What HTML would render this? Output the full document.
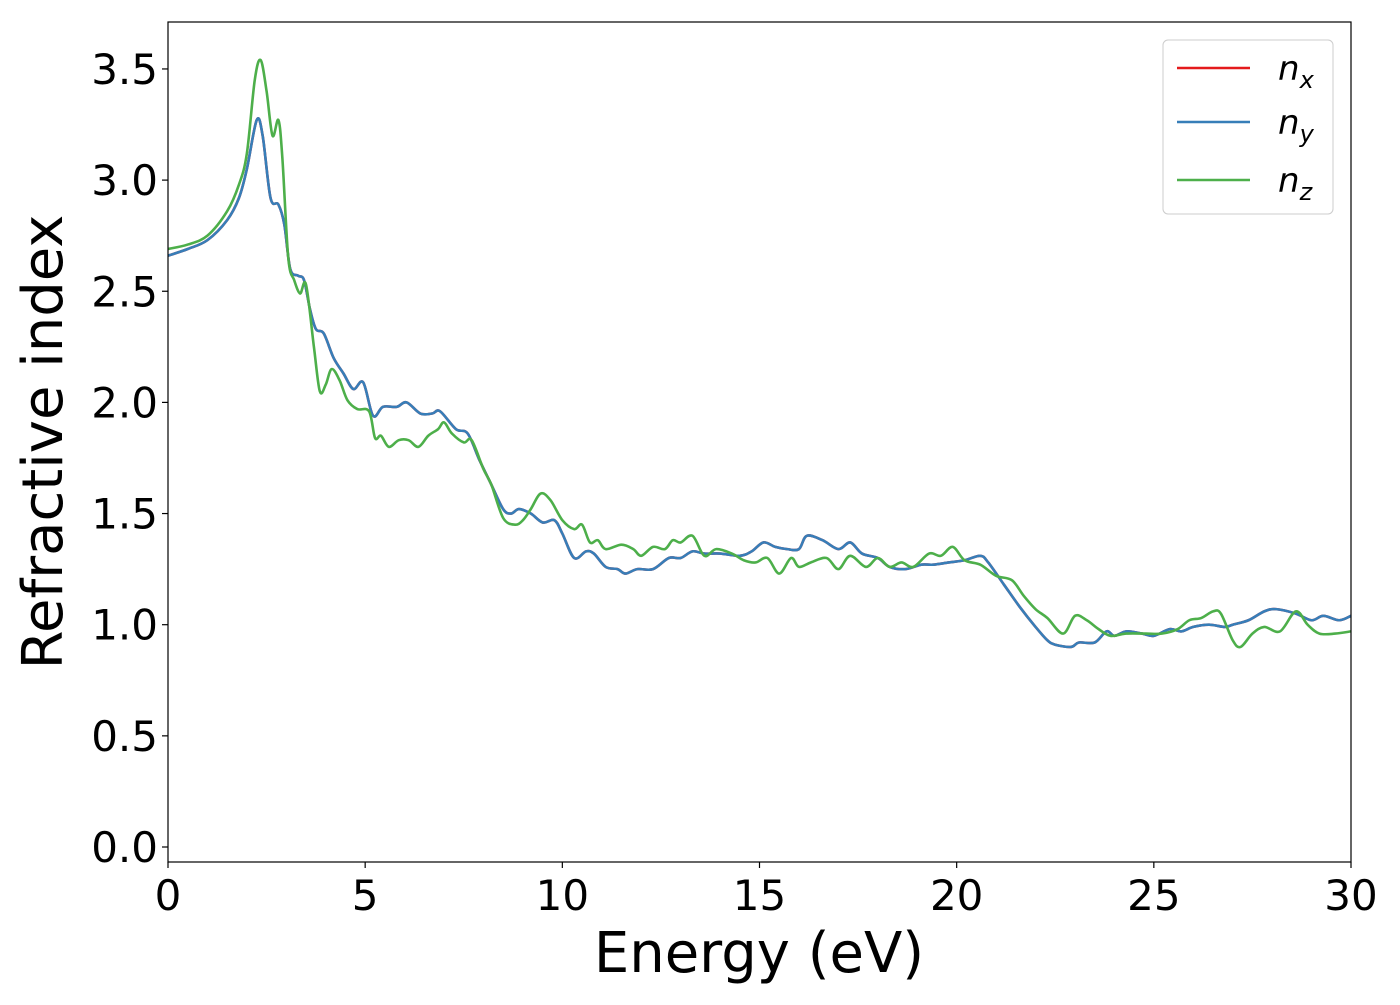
<!DOCTYPE html>
<html><head><meta charset="utf-8"><style>
body{margin:0;background:#fff;}
svg text{font-family:"DejaVu Sans","Liberation Sans",sans-serif;}
</style></head><body>
<svg width="1400" height="1000" viewBox="0 0 1400 1000" xmlns="http://www.w3.org/2000/svg">
<rect width="1400" height="1000" fill="#fff"/>
<g id="plot"></g>
<g id="axes"></g>
</svg>
<script>
const xTicks=[0,5,10,15,20,25,30];
const yTicks=[0.0,0.5,1.0,1.5,2.0,2.5,3.0,3.5];
const energyXY=[0,0.5,1,1.5,1.8,2.0,2.25,2.4,2.6,2.8,2.95,3.1,3.3,3.45,3.6,3.75,3.95,4.2,4.45,4.7,4.95,5.2,5.45,5.8,6.05,6.4,6.7,6.9,7.3,7.6,7.9,8.2,8.5,8.7,8.9,9.2,9.5,9.8,10.0,10.3,10.6,10.8,11.1,11.4,11.6,11.9,12.3,12.7,13.0,13.3,13.6,14.0,14.5,14.8,15.1,15.4,15.7,16.0,16.2,16.6,17.0,17.3,17.6,18.0,18.3,18.7,19.1,19.4,19.8,20.2,20.6,20.8,21.2,21.6,22.0,22.3,22.5,22.9,23.1,23.5,23.8,24.0,24.3,24.7,25.0,25.4,25.7,26.0,26.4,26.8,27.0,27.4,27.8,28.1,28.6,29.0,29.3,29.7,30];
const nx=[2.66,2.69,2.73,2.82,2.92,3.05,3.27,3.2,2.92,2.89,2.8,2.6,2.57,2.55,2.42,2.33,2.31,2.2,2.13,2.06,2.09,1.94,1.98,1.98,2.0,1.95,1.95,1.96,1.88,1.86,1.74,1.63,1.52,1.50,1.52,1.50,1.46,1.47,1.41,1.30,1.33,1.32,1.26,1.25,1.23,1.25,1.25,1.30,1.30,1.33,1.32,1.32,1.31,1.33,1.37,1.35,1.34,1.34,1.40,1.38,1.34,1.37,1.32,1.30,1.26,1.25,1.27,1.27,1.28,1.29,1.31,1.28,1.18,1.08,0.99,0.93,0.91,0.90,0.92,0.92,0.97,0.95,0.97,0.96,0.95,0.98,0.97,0.99,1.00,0.99,1.00,1.02,1.06,1.07,1.05,1.02,1.04,1.02,1.04];
const ny=nx.slice();
const energyZ=[0,0.5,1.0,1.5,1.8,2.0,2.2,2.35,2.5,2.65,2.8,2.9,3.05,3.2,3.35,3.5,3.7,3.85,4.0,4.15,4.35,4.55,4.8,5.1,5.25,5.4,5.6,5.85,6.1,6.35,6.6,6.85,7.0,7.2,7.5,7.7,8.0,8.2,8.5,8.8,9.0,9.2,9.45,9.7,10.0,10.3,10.5,10.7,10.9,11.1,11.5,11.8,12.0,12.3,12.6,12.8,13.0,13.3,13.6,13.9,14.3,14.6,14.9,15.2,15.5,15.8,16.0,16.3,16.7,17.0,17.3,17.7,18.0,18.3,18.6,18.9,19.3,19.6,19.9,20.2,20.6,21.0,21.4,21.7,22.0,22.3,22.7,23.0,23.3,23.6,23.9,24.3,24.8,25.2,25.6,25.9,26.2,26.5,26.7,27.0,27.2,27.5,27.8,28.2,28.6,28.9,29.2,29.6,30];
const nz=[2.69,2.71,2.75,2.86,2.98,3.12,3.45,3.54,3.40,3.20,3.27,3.10,2.65,2.55,2.49,2.53,2.25,2.05,2.08,2.15,2.10,2.01,1.97,1.96,1.84,1.85,1.80,1.83,1.83,1.80,1.85,1.88,1.91,1.86,1.82,1.83,1.70,1.63,1.48,1.45,1.47,1.52,1.59,1.56,1.47,1.43,1.45,1.37,1.38,1.34,1.36,1.34,1.31,1.35,1.34,1.38,1.37,1.40,1.31,1.34,1.32,1.29,1.28,1.30,1.23,1.30,1.26,1.28,1.30,1.25,1.31,1.26,1.30,1.26,1.28,1.26,1.32,1.31,1.35,1.29,1.27,1.22,1.20,1.13,1.07,1.03,0.96,1.04,1.02,0.98,0.95,0.96,0.96,0.96,0.98,1.02,1.03,1.06,1.05,0.93,0.90,0.96,0.99,0.97,1.06,1.00,0.96,0.96,0.97];

const NS="http://www.w3.org/2000/svg";
const L=168,R=1351,T=22,B=862;
const xScale=e=>L+(e-0)/30*(R-L);
const yScale=v=>847-v*222.3;
function mk(tag,attrs,parent){const el=document.createElementNS(NS,tag);for(const k in attrs)el.setAttribute(k,attrs[k]);parent.appendChild(el);return el;}
function smoothPath(xs,ys){
  const p=xs.map((x,i)=>[xScale(x),yScale(ys[i])]);
  let d=`M${p[0][0]},${p[0][1]}`;
  for(let i=0;i<p.length-1;i++){
    const p0=p[Math.max(0,i-1)],p1=p[i],p2=p[i+1],p3=p[Math.min(p.length-1,i+2)];
    const c1=[p1[0]+(p2[0]-p0[0])/6,p1[1]+(p2[1]-p0[1])/6];
    const c2=[p2[0]-(p3[0]-p1[0])/6,p2[1]-(p3[1]-p1[1])/6];
    d+=`C${c1[0]},${c1[1]} ${c2[0]},${c2[1]} ${p2[0]},${p2[1]}`;
  }
  return d;
}
const plot=document.getElementById('plot');
const axes=document.getElementById('axes');
const series=[[energyXY,nx,'#e41a1c','line-nx'],[energyXY,ny,'#377eb8','line-ny'],[energyZ,nz,'#4daf4a','line-nz']];
const cp=mk('clipPath',{id:'clip'},plot);mk('rect',{x:L,y:T,width:R-L,height:B-T},cp);
series.forEach(s=>{
  const el=mk('path',{d:smoothPath(s[0],s[1]),fill:'none',stroke:s[2],'stroke-width':2.6,'clip-path':'url(#clip)'},plot);
  
  
});
const frame=mk('rect',{x:L,y:T,width:R-L,height:B-T,fill:'none',stroke:'#000','stroke-width':1.2},axes);


xTicks.forEach(t=>{
  const x=xScale(t);
  const tk=mk('line',{x1:x,x2:x,y1:B,y2:B+6,stroke:'#000','stroke-width':1.2},axes);
  
  
  const tx=mk('text',{x:x,y:B+48,'font-size':42,'text-anchor':'middle'},axes);
  tx.textContent=String(t);
  
  
});
yTicks.forEach(t=>{
  const y=yScale(t);
  const tk=mk('line',{x1:L-6,x2:L,y1:y,y2:y,stroke:'#000','stroke-width':1.2},axes);
  
  
  const tx=mk('text',{x:L-10,y:y+15,'font-size':42,'text-anchor':'end'},axes);
  tx.textContent=t.toFixed(1);
  
  
});
</script>
<svg style="position:absolute;left:0;top:0" width="1400" height="1000">
<text x="759" y="972" font-size="56" text-anchor="middle" font-family="DejaVu Sans, Liberation Sans, sans-serif">Energy (eV)</text>
<text transform="translate(62,442) rotate(-90)" font-size="56" text-anchor="middle" font-family="DejaVu Sans, Liberation Sans, sans-serif">Refractive index</text>
<g font-family="DejaVu Sans, Liberation Sans, sans-serif" font-style="italic">
<rect x="1163" y="40" width="170" height="174" rx="5" fill="#fff" fill-opacity="0.8" stroke="#ccc"/>
<g><line x1="1177" x2="1250" y1="68" y2="68" stroke="#e41a1c" stroke-width="2.6"/><text x="1278" y="80" font-size="34">n<tspan font-size="24" dy="8">x</tspan></text></g>
<g><line x1="1177" x2="1250" y1="122" y2="122" stroke="#377eb8" stroke-width="2.6"/><text x="1278" y="134" font-size="34">n<tspan font-size="24" dy="8">y</tspan></text></g>
<g><line x1="1177" x2="1250" y1="180" y2="180" stroke="#4daf4a" stroke-width="2.6"/><text x="1278" y="192" font-size="34">n<tspan font-size="24" dy="8">z</tspan></text></g>
</g>
</svg>
</body></html>
